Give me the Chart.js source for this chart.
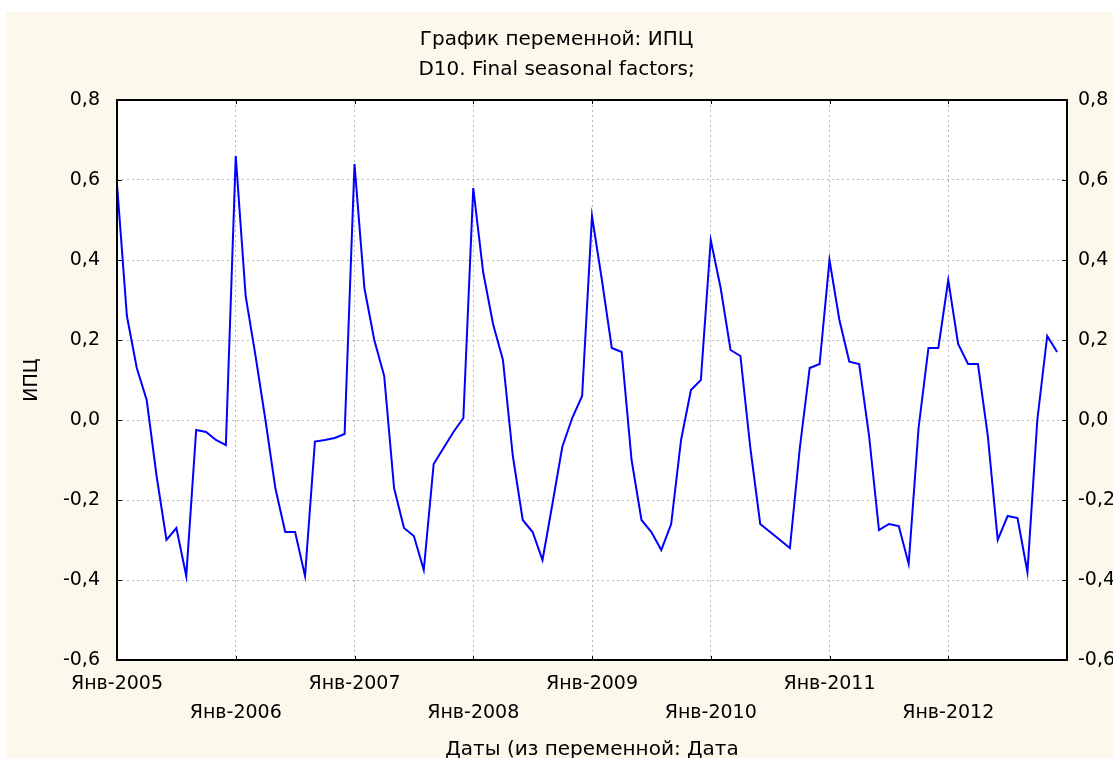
<!DOCTYPE html>
<html>
<head>
<meta charset="utf-8">
<script src="https://cdn.jsdelivr.net/npm/chart.js@4.4.1/dist/chart.umd.min.js"></script>
<style>
  html, body { margin: 0; padding: 0; background: #ffffff; }
  canvas { display: block; }
</style>
</head>
<body>
<canvas id="cpi_chart" width="1113" height="758"></canvas>
<script>
// D10 final seasonal factors of the CPI, monthly, Jan 2005 .. Dec 2012
const factors_2005 = [0.59, 0.26, 0.13, 0.05, -0.14, -0.30, -0.27, -0.39, -0.025, -0.03, -0.05, -0.063];
const factors_2006 = [0.66, 0.31, 0.16, 0.00, -0.17, -0.28, -0.28, -0.39, -0.054, -0.05, -0.045, -0.035];
const factors_2007 = [0.64, 0.33, 0.20, 0.11, -0.17, -0.27, -0.29, -0.375, -0.11, -0.07, -0.03, 0.005];
const factors_2008 = [0.58, 0.37, 0.24, 0.15, -0.09, -0.25, -0.28, -0.35, -0.21, -0.067, 0.005, 0.06];
const factors_2009 = [0.51, 0.35, 0.18, 0.17, -0.10, -0.25, -0.28, -0.325, -0.26, -0.05, 0.075, 0.10];
const factors_2010 = [0.45, 0.33, 0.175, 0.16, -0.07, -0.26, -0.28, -0.30, -0.32, -0.07, 0.13, 0.14];
const factors_2011 = [0.40, 0.25, 0.146, 0.14, -0.04, -0.275, -0.26, -0.265, -0.36, -0.02, 0.18, 0.18];
const factors_2012 = [0.35, 0.19, 0.14, 0.14, -0.04, -0.30, -0.24, -0.245, -0.38, 0.00, 0.21, 0.17];

const year_labels = ['Янв-2005', 'Янв-2006', 'Янв-2007', 'Янв-2008', 'Янв-2009', 'Янв-2010', 'Янв-2011', 'Янв-2012'];
const y_min = -0.6;
const y_max = 0.8;
const y_step = 0.2;

const factors = [].concat(factors_2005, factors_2006, factors_2007, factors_2008,
                          factors_2009, factors_2010, factors_2011, factors_2012);

const FONT = 'DejaVu Sans';
const CREAM = '#fcf8ec';

function fmt_value(v) {
    return v.toFixed(1).replace('.', ',');
}

// cream page, white plot area
const background = {
    id: 'background',
    beforeDraw(chart) {
        const {ctx, chartArea: a} = chart;
        ctx.save();
        ctx.fillStyle = '#ffffff';
        ctx.fillRect(0, 0, chart.width, chart.height);
        ctx.fillStyle = CREAM;
        ctx.fillRect(6, 12, chart.width - 6, chart.height - 12);
        ctx.fillStyle = '#ffffff';
        ctx.fillRect(a.left, a.top, a.right - a.left, a.bottom - a.top);
        ctx.restore();
    }
};

// black frame round the plot with short inward ticks
const frame = {
    id: 'frame',
    afterDraw(chart) {
        const {ctx, chartArea: a, scales} = chart;
        ctx.save();
        ctx.strokeStyle = '#000000';
        ctx.lineWidth = 1;
        ctx.beginPath();
        scales.y.ticks.forEach(t => {
            const py = Math.round(scales.y.getPixelForValue(t.value)) + 0.5;
            ctx.moveTo(a.left, py); ctx.lineTo(a.left + 5, py);
            ctx.moveTo(a.right, py); ctx.lineTo(a.right - 5, py);
        });
        scales.x.ticks.forEach(t => {
            const px = Math.round(scales.x.getPixelForValue(t.value)) + 0.5;
            ctx.moveTo(px, a.top); ctx.lineTo(px, a.top + 4);
            ctx.moveTo(px, a.bottom); ctx.lineTo(px, a.bottom - 4);
        });
        ctx.stroke();
        ctx.lineWidth = 2;
        ctx.strokeRect(a.left, a.top, a.right - a.left, a.bottom - a.top);
        ctx.restore();
    }
};

const canvas = document.getElementById('cpi_chart');

let chart = new Chart(canvas, {
    type: 'line',
    data: {
        datasets: [{
            label: 'ИПЦ',
            data: factors.map((v, i) => ({x: i, y: v})),
            borderColor: '#0000ff',
            borderWidth: 2,
            pointRadius: 0,
            tension: 0,
            fill: false
        }]
    },
    options: {
        responsive: false,
        animation: false,
        layout: {padding: 0},
        plugins: {
            legend: {display: false},
            tooltip: {enabled: false},
            title: {
                display: true,
                text: 'График переменной: ИПЦ',
                color: '#000000',
                font: {family: FONT, size: 20, weight: 'normal', lineHeight: 1.2},
                padding: {top: 28, bottom: 0}
            },
            subtitle: {
                display: true,
                text: 'D10. Final seasonal factors;',
                color: '#000000',
                font: {family: FONT, size: 20, weight: 'normal', lineHeight: 1.2},
                padding: {top: 6, bottom: 18}
            }
        },
        scales: {
            x: {
                type: 'linear',
                min: 0,
                max: 96,
                afterFit: s => { s.height = 98; },
                grid: {color: '#b8b8b8', drawTicks: false},
                border: {display: false, dash: [2, 3]},
                ticks: {
                    stepSize: 12,
                    autoSkip: false,
                    maxRotation: 0,
                    padding: 10,
                    color: '#000000',
                    font: {family: FONT, size: 19, lineHeight: 1.5},
                    callback: (value) => {
                        const i = Math.round(value / 12);
                        if (i >= year_labels.length) return '';
                        return i % 2 === 0 ? year_labels[i] : ['', year_labels[i]];
                    }
                },
                title: {
                    display: true,
                    text: 'Даты (из переменной: Дата',
                    color: '#000000',
                    font: {family: FONT, size: 20, lineHeight: 1.2},
                    padding: {top: 0, bottom: -4}
                }
            },
            y: {
                position: 'left',
                min: y_min,
                max: y_max,
                afterFit: s => { s.width = 117; },
                grid: {color: '#b8b8b8', drawTicks: false},
                border: {display: false, dash: [2, 3]},
                ticks: {
                    stepSize: y_step,
                    padding: 17,
                    color: '#000000',
                    font: {family: FONT, size: 19},
                    callback: fmt_value
                },
                title: {
                    display: true,
                    text: 'ИПЦ',
                    color: '#000000',
                    font: {family: FONT, size: 19, lineHeight: 1.2},
                    padding: {top: 21, bottom: 0}
                }
            },
            y2: {
                position: 'right',
                min: y_min,
                max: y_max,
                afterFit: s => { s.width = 46; },
                grid: {display: false, drawTicks: false},
                border: {display: false},
                ticks: {
                    stepSize: y_step,
                    padding: 11,
                    color: '#000000',
                    font: {family: FONT, size: 19},
                    callback: fmt_value
                }
            }
        }
    },
    plugins: [background, frame]
});
</script>
</body>
</html>
